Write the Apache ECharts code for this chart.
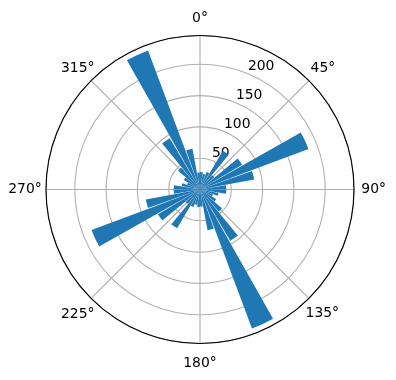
<!DOCTYPE html>
<html><head><meta charset="utf-8">
<script src="https://cdn.jsdelivr.net/npm/echarts@6/dist/echarts.min.js"></script>
<style>html,body{margin:0;padding:0;background:#fff}#c{width:396px;height:380px}</style>
</head><body><div id="c"></div>
<script>
// bin centres (degrees, clockwise from north)
const binCenters = [5,15,25,35,45,55,65,75,85,95,105,115,125,135,145,155,165,175,
                    185,195,205,215,225,235,245,255,265,275,285,295,305,315,325,335,345,355];
// bar heights
const counts = [28,25,30,72,30,78,185,88,42,42,30,22,30,46,95,237,66,27,
                28,25,30,72,30,78,185,88,42,42,30,22,30,46,95,237,66,27];
const angleTickValues = [0,45,90,135,180,225,270,315];
const angleTickLabels = ['0°','45°','90°','135°','180°','225°','270°','315°'];
const radialTicks = [50,100,150,200];
const rMax = 246;

const font = 'DejaVu Sans';
const fs = 13.9;
const C = [200, 189.5], R = 154;
// per-direction padding so that each label ends up centred like matplotlib's
const labelPad = {
  0:   [0, 0, 15, 0],
  45:  [0, 0, 9, 5],
  90:  [0, 0, 0, 12],
  135: [11, 0, 0, 0],
  180: [18, 0, 0, 0],
  225: [12, 0, 0, 0],
  270: [0, 9, 0, 0],
  315: [0, 0, 9, 0]
};
const rich = {};
angleTickValues.forEach(v => {
  rich['a' + v] = {fontFamily: font, fontSize: fs, color: '#000', padding: labelPad[v]};
});
const chart = echarts.init(document.getElementById('c'), null, {renderer:'canvas'});
chart.setOption({
  animation: false,
  backgroundColor: '#fff',
  polar: [
    {center: C, radius: R},
    {center: C, radius: R},
    {center: C, radius: R}
  ],
  angleAxis: [
    {polarIndex: 0, type: 'value', min: 0, max: 360, interval: 45, startAngle: 90, clockwise: true,
     axisLine: {show: true, lineStyle: {color: '#000', width: 1.1}},
     axisTick: {show: false},
     axisLabel: {show: true, margin: -4.7, fontFamily: font, fontSize: fs, color: '#000', rich: rich,
       formatter: v => { const i = angleTickValues.indexOf(v); return i >= 0 ? '{a' + v + '|' + angleTickLabels[i] + '}' : ''; }},
     splitLine: {show: true, lineStyle: {color: '#b0b0b0', width: 1.1}}},
    {polarIndex: 1, type: 'category', data: binCenters, startAngle: 90, clockwise: true, boundaryGap: true,
     axisLine: {show: false}, axisTick: {show: false}, axisLabel: {show: false}, splitLine: {show: false}},
    {polarIndex: 2, type: 'value', min: 0, max: 360, startAngle: 67.5, clockwise: true,
     axisLine: {show: false}, axisTick: {show: false}, axisLabel: {show: false}, splitLine: {show: false}}
  ],
  radiusAxis: [
    {polarIndex: 0, type: 'value', min: 0, max: rMax, interval: 50,
     axisLine: {show: false}, axisTick: {show: false}, axisLabel: {show: false},
     splitLine: {show: true, lineStyle: {color: '#b0b0b0', width: 1.1}}},
    {polarIndex: 1, type: 'value', min: 0, max: rMax,
     axisLine: {show: false}, axisTick: {show: false}, axisLabel: {show: false}, splitLine: {show: false}},
    {polarIndex: 2, type: 'value', min: 0, max: rMax, interval: 50,
     axisLine: {show: false}, axisTick: {show: false}, splitLine: {show: false},
     axisLabel: {show: true, margin: 0, fontFamily: font, fontSize: fs, color: '#000',
       align: 'left', verticalAlign: 'bottom', rotate: 0,
       formatter: v => radialTicks.indexOf(v) >= 0 ? String(v) : ''}}
  ],
  series: [{
    type: 'bar', coordinateSystem: 'polar', polarIndex: 1,
    data: counts, barWidth: '90%', barGap: '0%',
    itemStyle: {color: '#1f77b4'}, z: 3
  }]
});
</script></body></html>
